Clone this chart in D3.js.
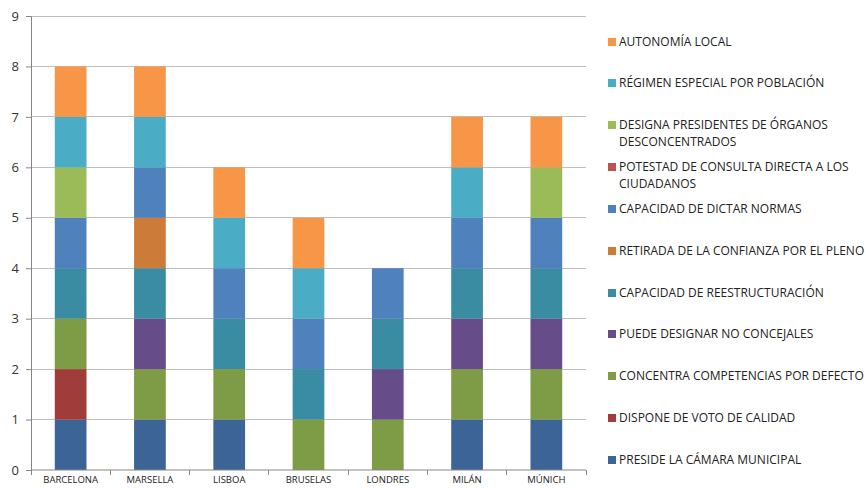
<!DOCTYPE html>
<html><head><meta charset="utf-8">
<script src="https://cdn.jsdelivr.net/npm/d3@7"></script>
<style>body{margin:0;background:#fff}svg{display:block}</style>
</head><body>
<script>
const cities = ["BARCELONA","MARSELLA","LISBOA","BRUSELAS","LONDRES","MILÁN","MÚNICH"];
// series in stacking order (bottom to top)
const seriesNames = [
  "PRESIDE LA CÁMARA MUNICIPAL",
  "DISPONE DE VOTO DE CALIDAD",
  "CONCENTRA COMPETENCIAS POR DEFECTO",
  "PUEDE DESIGNAR NO CONCEJALES",
  "CAPACIDAD DE REESTRUCTURACIÓN",
  "RETIRADA DE LA CONFIANZA POR EL PLENO",
  "CAPACIDAD DE DICTAR NORMAS",
  "POTESTAD DE CONSULTA DIRECTA A LOS CIUDADANOS",
  "DESIGNA PRESIDENTES DE ÓRGANOS DESCONCENTRADOS",
  "RÉGIMEN ESPECIAL POR POBLACIÓN",
  "AUTONOMÍA LOCAL"
];
const legendLines = [
  ["PRESIDE LA CÁMARA MUNICIPAL"],
  ["DISPONE DE VOTO DE CALIDAD"],
  ["CONCENTRA COMPETENCIAS POR DEFECTO"],
  ["PUEDE DESIGNAR NO CONCEJALES"],
  ["CAPACIDAD DE REESTRUCTURACIÓN"],
  ["RETIRADA DE LA CONFIANZA POR EL PLENO"],
  ["CAPACIDAD DE DICTAR NORMAS"],
  ["POTESTAD DE CONSULTA DIRECTA A LOS","CIUDADANOS"],
  ["DESIGNA PRESIDENTES DE ÓRGANOS","DESCONCENTRADOS"],
  ["RÉGIMEN ESPECIAL POR POBLACIÓN"],
  ["AUTONOMÍA LOCAL"]
];
const colors = ["#3C6497","#A03D3B","#7E9B45","#674C8A","#3A8CA2","#CC7B38","#4F81BD","#C0504D","#9BBB59","#4BACC6","#F79646"];
// values per city, one per series (order as seriesNames)
const preside      = [1,1,1,0,0,1,1];
const votoCalidad  = [1,0,0,0,0,0,0];
const concentra    = [1,1,1,1,1,1,1];
const noConcejales = [0,1,0,0,1,1,1];
const reestruct    = [1,1,1,1,1,1,1];
const retirada     = [0,1,0,0,0,0,0];
const dictarNormas = [1,1,1,1,1,1,1];
const consulta     = [0,0,0,0,0,0,0];
const designa      = [1,0,0,0,0,0,1];
const regimen      = [1,1,1,1,0,1,0];
const autonomia    = [1,1,1,1,0,1,1];
const yTicks = [0,1,2,3,4,5,6,7,8,9];

const seriesValues = [preside,votoCalidad,concentra,noConcejales,reestruct,retirada,dictarNormas,consulta,designa,regimen,autonomia];
const rows = cities.map((c,i)=>{const r={city:c};seriesNames.forEach((s,j)=>r[s]=seriesValues[j][i]);return r;});

const W=866,H=488;
const svg=d3.select("body").append("svg").attr("width",W).attr("height",H);
const x=d3.scaleBand().domain(cities).range([31,586]).paddingInner(0.6).paddingOuter(0.3);
const y=d3.scaleLinear().domain([0,9]).range([470,16]);

// gridlines
svg.append("g").selectAll("line").data(yTicks.filter(d=>d>0)).join("line")
  .attr("x1",31).attr("x2",586).attr("y1",d=>y(d)).attr("y2",d=>y(d))
  .attr("stroke","#BFBFBF").attr("stroke-width",1).attr("shape-rendering","crispEdges");

const stack=d3.stack().keys(seriesNames)(rows);
svg.append("g").selectAll("g").data(stack).join("g")
  .attr("fill",(d,i)=>colors[i])
  .selectAll("rect").data(d=>d.filter(p=>p[1]-p[0]>0)).join("rect")
  .attr("x",d=>x(d.data.city)).attr("width",x.bandwidth())
  .attr("y",d=>y(d[1])).attr("height",d=>y(d[0])-y(d[1]));

// y axis
const ya=svg.append("g").attr("transform","translate(31,0)")
  .call(d3.axisLeft(y).tickValues(yTicks).tickSize(5).tickFormat(d3.format("d")));
ya.select(".domain").attr("stroke","#868686");
ya.selectAll(".tick line").attr("stroke","#868686");
ya.selectAll("text").attr("font-family","'Open Sans', sans-serif").attr("font-size",13).attr("fill","#333").attr("x",-12);

// x axis
const xa=svg.append("g").attr("transform","translate(0,470)")
  .call(d3.axisBottom(x).tickSize(0).tickPadding(6));
xa.select(".domain").attr("stroke","#868686").attr("d","M31,0H586");
xa.selectAll("text").attr("font-family","'Open Sans', sans-serif").attr("font-size",9.5).attr("fill","#222");
const step=x.step();
svg.append("g").selectAll("line").data(d3.range(cities.length+1)).join("line")
  .attr("x1",d=>31+d*step).attr("x2",d=>31+d*step).attr("y1",470).attr("y2",475)
  .attr("stroke","#868686").attr("shape-rendering","crispEdges");

// legend (top to bottom reverse stacking)
const lg=svg.append("g");
const order=d3.range(seriesNames.length).reverse();
const ys=[42,83,125,167,209,251,293,334,376,418,460];
order.forEach((si,k)=>{
  const g=lg.append("g").attr("transform",`translate(0,${ys[k]})`);
  g.append("rect").attr("x",608).attr("y",-4).attr("width",8).attr("height",8).attr("fill",colors[si]);
  legendLines[si].forEach((t,li)=>{
    g.append("text").attr("x",619).attr("y",li*16.5).attr("dy","0.35em")
      .attr("font-family","'Open Sans', sans-serif").attr("font-size",12).attr("fill","#222").text(t);
  });
});
</script>
</body></html>
